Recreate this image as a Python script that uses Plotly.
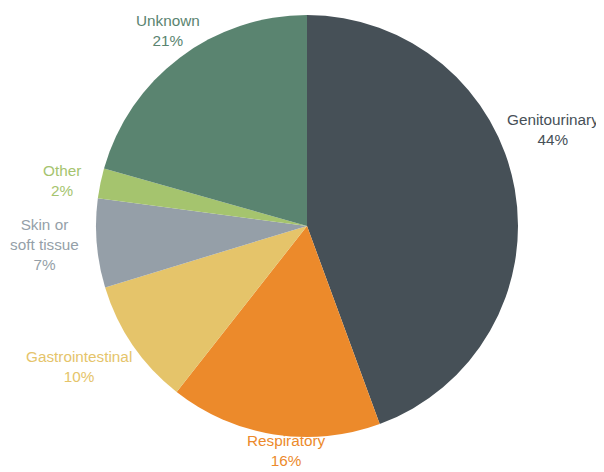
import math
import plotly.graph_objects as go

# ---- data ----
categories = ["Genitourinary", "Respiratory", "Gastrointestinal", "Skin or<br>soft tissue", "Other", "Unknown"]
values = [44.4, 16.2, 9.7, 6.8, 2.3, 20.6]

# ---- style ----
colors = ["#465057", "#EC8A2B", "#E5C46A", "#959FA8", "#A5C46E", "#5A8470"]
label_radius_px = [264, 225, 268, 263, 249, 240]    # distance of label centre from pie centre
label_angle_shift = [-11.4, -3.9, 2.7, 0.6, -1.2, 1.7]  # degrees, clockwise
FONT = "Liberation Sans, Arial, Helvetica, sans-serif"
FONT_SIZE = 15.3

W, H = 596, 464
L, R, T, B = 88, 86, 7, 35
plot_w = W - L - R
plot_h = H - T - B

fig = go.Figure(go.Pie(
    labels=categories,
    values=values,
    sort=False,
    direction="clockwise",
    rotation=0,
    marker=dict(colors=colors, line=dict(width=0)),
    textinfo="none",
    showlegend=False,
    automargin=False,
))

total = sum(values)
cum = 0.0
for cat, v, col, rad, shift in zip(categories, values, colors, label_radius_px, label_angle_shift):
    mid = (cum + v / 2) / total * 360 + shift
    cum += v
    dx = rad * math.sin(math.radians(mid))
    dy = -rad * math.cos(math.radians(mid))
    fig.add_annotation(
        x=0.5 + dx / plot_w,
        y=0.5 - dy / plot_h,
        xref="paper", yref="paper",
        text=f"{cat}<br>{round(v / total * 100):d}%",
        showarrow=False,
        xanchor="center", yanchor="middle",
        align="center",
        font=dict(family=FONT, size=FONT_SIZE, color=col),
    )

fig.update_layout(
    width=W, height=H,
    margin=dict(l=L, r=R, t=T, b=B),
    paper_bgcolor="white",
    plot_bgcolor="white",
)

fig.write_html("out.html")
